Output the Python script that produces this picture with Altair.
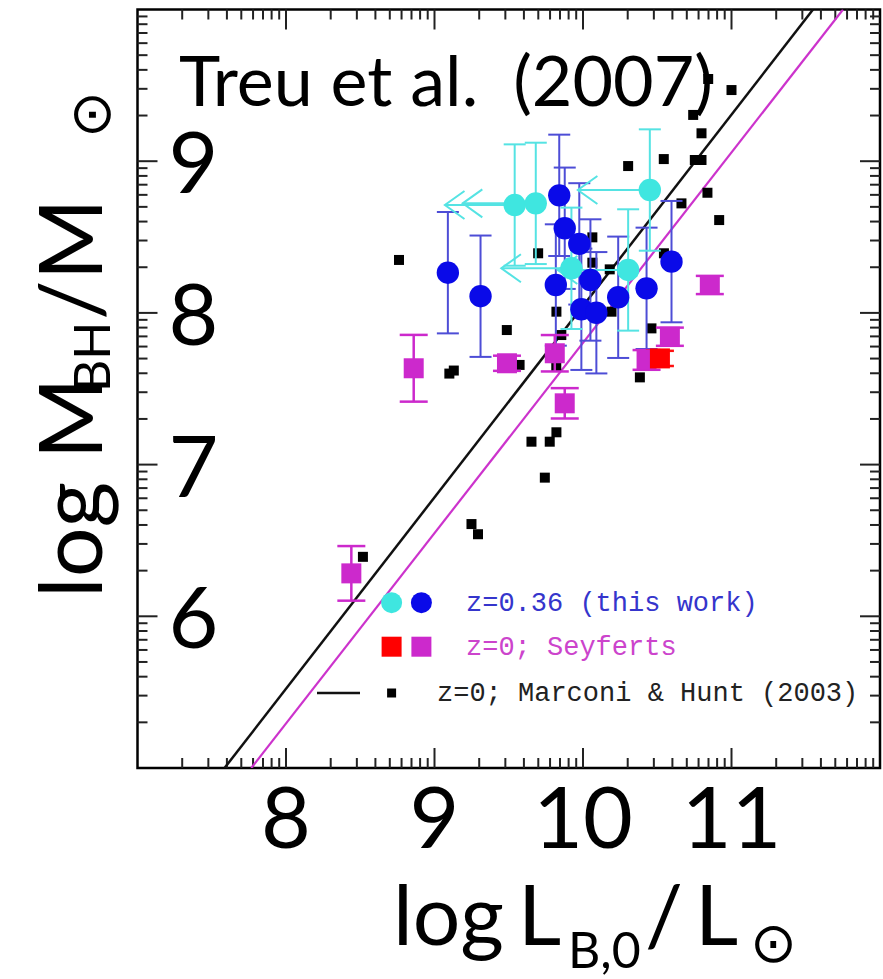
import altair as alt
import numpy as np
import pandas as pd

# ---------------- data ----------------
# z=0; Marconi & Hunt (2003) galaxies (black squares)
mh_x = [8.518, 8.761, 9.10, 9.13, 9.249, 9.293, 9.487, 9.573, 9.653, 9.698, 9.743, 9.776,
        9.821, 9.82, 9.821, 9.854, 10.063, 10.063, 10.18, 10.192, 10.304, 10.383, 10.461,
        10.545, 10.544, 10.663, 10.742, 10.753, 10.798, 10.798, 10.838, 10.843, 10.917, 11.0]
mh_y = [6.392, 8.349, 7.60, 7.62, 6.608, 6.541, 7.887, 7.657, 7.151, 8.393, 6.914, 7.151,
        7.213, 7.645, 8.008, 7.854, 8.498, 8.331, 8.287, 8.008, 8.968, 7.575, 7.898,
        8.393, 9.014, 8.722, 9.305, 9.008, 9.008, 9.184, 8.792, 9.542, 8.612, 9.469]

# z=0.36 (this work), dark blue
blue_x = [9.09, 9.31, 9.84, 9.877, 9.975, 9.817, 9.989, 10.09, 10.05, 10.237, 10.428, 10.596]
blue_y = [8.265, 8.11, 8.775, 8.558, 8.455, 8.184, 8.024, 8.001, 8.217, 8.103, 8.162, 8.338]
blue_err = [0.40, 0.40, 0.40, 0.40, 0.40, 0.40, 0.40, 0.40, 0.40, 0.40, 0.40, 0.40]

# z=0.36 (this work), cyan (luminosity upper limits)
cyan_x = [9.54, 9.682, 9.922, 10.304, 10.45]
cyan_y = [8.711, 8.722, 8.294, 8.283, 8.81]
cyan_err = [0.40, 0.40, 0.40, 0.40, 0.40]
cyan_lim = [9.07, 9.19, 9.45, 9.83, 9.965]

# z=0 Seyferts (magenta) and red one
sey_x = [8.44, 8.86, 9.488, 9.81, 9.877, 10.428, 10.585, 10.854]
sey_y = [6.283, 7.635, 7.668, 7.734, 7.404, 7.69, 7.843, 8.184]
sey_err = [0.18, 0.22, 0.05, 0.12, 0.10, 0.065, 0.06, 0.06]
red_x = [10.518]
red_y = [7.70]
red_err = [0.05]

# local relations (end points)
mh_line_x = [7.586, 11.549]
mh_line_y = [5.0, 10.0]
sey_line_x = [7.766, 11.751]
sey_line_y = [5.0, 10.0]

# axes
x_major = [8, 9, 10, 11]
x_labels = ["8", "9", "10", "11"]
y_major = [6, 7, 8, 9]
y_labels = ["6", "7", "8", "9"]
x_minor = [n + np.log10(k) for n in range(7, 12) for k in range(2, 10)]
y_minor = [n + np.log10(k) for n in range(5, 10) for k in range(2, 10)]

# ---------------- layout ----------------
W, H = 742.5, 758.5
L0, T0 = 137.5, 9.5   # page position of the plot's top-left corner
xs = alt.Scale(domain=[7, 12], nice=False, zero=False)
ys = alt.Scale(domain=[5, 10], nice=False, zero=False)


def X(f):
    return alt.X(f, type="quantitative", scale=xs, axis=None)


def Y(f):
    return alt.Y(f, type="quantitative", scale=ys, axis=None)


layers = []

# ticks (inward, on all four sides)
TICK = "#222222"
for vals, ln in [(x_major, 20), (x_minor, 10)]:
    d = pd.DataFrame({"v": vals})
    layers.append(alt.Chart(d).mark_rule(color=TICK, strokeWidth=2).encode(
        x=X("v"), y=alt.value(H), y2=alt.value(H - ln)))
    layers.append(alt.Chart(d).mark_rule(color=TICK, strokeWidth=2).encode(
        x=X("v"), y=alt.value(0), y2=alt.value(ln)))
for vals, ln in [(y_major, 20), (y_minor, 10)]:
    d = pd.DataFrame({"v": vals})
    layers.append(alt.Chart(d).mark_rule(color=TICK, strokeWidth=2).encode(
        y=Y("v"), x=alt.value(0), x2=alt.value(ln)))
    layers.append(alt.Chart(d).mark_rule(color=TICK, strokeWidth=2).encode(
        y=Y("v"), x=alt.value(W), x2=alt.value(W - ln)))

# relations
layers.append(alt.Chart(pd.DataFrame({"x": mh_line_x, "y": mh_line_y})).mark_line(
    color="#111111", strokeWidth=2.5, clip=True).encode(x=X("x"), y=Y("y")))
layers.append(alt.Chart(pd.DataFrame({"x": sey_line_x, "y": sey_line_y})).mark_line(
    color="#cc33cc", strokeWidth=2.2, clip=True).encode(x=X("x"), y=Y("y")))

# black squares
layers.append(alt.Chart(pd.DataFrame({"x": mh_x, "y": mh_y})).mark_point(
    shape="square", filled=True, size=100, color="black", opacity=1).encode(x=X("x"), y=Y("y")))

CAP = "M-1,0L1,0"


def errbars(xv, yv, ev, color, width, capw):
    d = pd.DataFrame({"x": xv, "lo": [a - b for a, b in zip(yv, ev)],
                      "hi": [a + b for a, b in zip(yv, ev)]})
    out = [alt.Chart(d).mark_rule(color=color, strokeWidth=width).encode(
        x=X("x"), y=Y("lo"), y2="hi")]
    for f in ["lo", "hi"]:
        out.append(alt.Chart(d).mark_point(shape=CAP, size=capw * capw, filled=False,
                                           color=color, strokeWidth=width, opacity=1).encode(
            x=X("x"), y=Y(f)))
    return out


BLUE_BAR = "#4d4dd6"
CYAN_BAR = "#55e3e3"
MAG = "#cc29cc"
layers += errbars(blue_x, blue_y, blue_err, BLUE_BAR, 2, 22)
layers += errbars(cyan_x, cyan_y, cyan_err, CYAN_BAR, 2, 22)

# cyan arrows (upper limits in luminosity)
arr = pd.DataFrame({"x": cyan_x, "y": cyan_y, "xl": cyan_lim})
layers.append(alt.Chart(arr).mark_rule(color=CYAN_BAR, strokeWidth=2).encode(
    x=X("xl"), x2="x", y=Y("y")))
layers.append(alt.Chart(arr).mark_point(shape="M1.4,-1L0,0L1.4,1", size=784, filled=False,
                                        color=CYAN_BAR, strokeWidth=2, opacity=1).encode(
    x=X("xl"), y=Y("y")))

layers += errbars(sey_x, sey_y, sey_err, MAG, 2.5, 28)
layers += errbars(red_x, red_y, red_err, "#ff1010", 2.5, 28)
layers.append(alt.Chart(pd.DataFrame({"x": sey_x, "y": sey_y})).mark_point(
    shape="square", filled=True, size=400, color=MAG, opacity=1).encode(x=X("x"), y=Y("y")))
layers.append(alt.Chart(pd.DataFrame({"x": red_x, "y": red_y})).mark_point(
    shape="square", filled=True, size=400, color="#ff0000", opacity=1).encode(x=X("x"), y=Y("y")))

layers.append(alt.Chart(pd.DataFrame({"x": blue_x, "y": blue_y})).mark_point(
    shape="circle", filled=True, size=500, color="#0a0ae8", opacity=1).encode(x=X("x"), y=Y("y")))
layers.append(alt.Chart(pd.DataFrame({"x": cyan_x, "y": cyan_y})).mark_point(
    shape="circle", filled=True, size=500, color="#3fe6e0", opacity=1).encode(x=X("x"), y=Y("y")))


# ---------------- legend (inside plot, lower right) ----------------
def one():
    return pd.DataFrame({"a": [0]})


def sym(x, y, shape, size, color):
    return alt.Chart(one()).mark_point(shape=shape, filled=True, size=size, color=color,
                                       opacity=1).encode(x=alt.value(x), y=alt.value(y))


def txt(text, x, y, size, color="black", font="Lato", angle=0, align="left",
        baseline="alphabetic"):
    kw = dict(text=text, fontSize=size, color=color, font=font, align=align, baseline=baseline)
    if angle:
        kw["angle"] = angle
    return alt.Chart(one()).mark_text(**kw).encode(x=alt.value(x), y=alt.value(y))


LEG_FONT = "Liberation Mono"
layers += [
    sym(254.1, 593.2, "circle", 441, "#3fe6e0"),
    sym(283.9, 593.2, "circle", 441, "#0a0ae8"),
    txt("z=0.36 (this work)", 328.5, 593.2, 27, "#3535cc", LEG_FONT, baseline="middle"),
    sym(254.1, 637.2, "square", 400, "#ff0000"),
    sym(283.9, 637.2, "square", 400, MAG),
    txt("z=0; Seyferts", 328.5, 637.2, 27, "#cc44cc", LEG_FONT, baseline="middle"),
    alt.Chart(one()).mark_rule(color="#111111", strokeWidth=2.5).encode(
        x=alt.value(179.5), x2=alt.value(222.5), y=alt.value(683.5)),
    sym(254.1, 683.5, "square", 81, "black"),
    txt("z=0; Marconi & Hunt (2003)", 299.5, 683.5, 27, "#222222", LEG_FONT, baseline="middle"),
]

# ---------------- big labels ----------------
# tick labels
layers.append(alt.Chart(pd.DataFrame({"v": x_major, "t": x_labels})).mark_text(
    font="Lato", fontSize=86, align="center", baseline="alphabetic", color="black").encode(
    x=X("v"), y=alt.value(H + 80), text="t:N"))
layers.append(alt.Chart(pd.DataFrame({"v": y_major, "t": y_labels})).mark_text(
    font="Lato", fontSize=86, align="center", baseline="alphabetic", color="black", dy=32).encode(
    y=Y("v"), x=alt.value(56), text="t:N"))

# annotation
layers.append(txt("Treu et al.\u2002(2007)", 183 - L0 - 4, 106 - T0, 70))

# x title: log L_B,0 / L_sun
layers += [
    txt("log", 393 - L0, 945 - T0, 84),
    txt("L", 518 - L0, 945 - T0, 84),
    txt("B,0", 568 - L0, 968 - T0, 50),
    txt("/", 645 - L0, 945 - T0, 84),
    txt("L", 695 - L0, 945 - T0, 84),
    txt("\u2299", 750 - L0, 962 - T0, 56, font="DejaVu Sans"),
]
# y title: log M_BH / M_sun (rotated)
layers += [
    txt("log M", 102 - L0, 598 - T0, 88, angle=270),
    txt("BH", 110 - L0, 392 - T0, 50, angle=270),
    txt("/M", 102 - L0, 320 - T0, 88, angle=270),
    txt("\u2299", 110 - L0, 138 - T0, 56, font="DejaVu Sans", angle=270),
]

chart = alt.layer(*layers).properties(
    width=W, height=H,
    autosize=alt.AutoSizeParams(type="none"),
    padding={"left": L0, "top": T0, "right": 3, "bottom": 211},
    background="white",
).configure_view(stroke="black", strokeWidth=2.5)

chart.save("out.html", embed_options={"renderer": "svg", "actions": False})
